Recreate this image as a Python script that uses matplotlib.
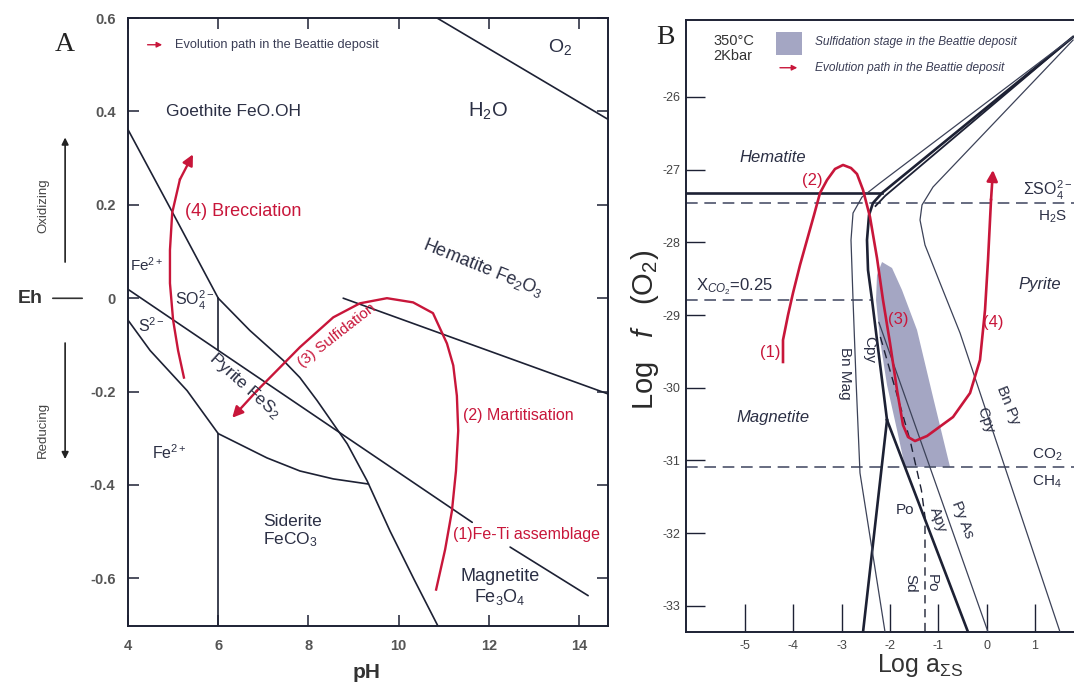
import matplotlib
matplotlib.use("Agg")
import matplotlib.pyplot as plt
from matplotlib.patches import Polygon, Rectangle

plt.rcParams['font.family'] = ['Liberation Sans', 'DejaVu Sans']
plt.rcParams['mathtext.fontset'] = 'custom'
plt.rcParams['mathtext.rm'] = 'Liberation Sans'
plt.rcParams['mathtext.it'] = 'Liberation Sans:italic'
plt.rcParams['mathtext.bf'] = 'Liberation Sans:bold'

LINE = '#1d2134'
TXT = '#2b2f44'
RED = '#c8163a'
DASH = '#4d536b'
TICK = '#555555'

# ---------------- panel A : Eh - pH ----------------
goe_fe_ph = [4.0, 4.99, 6.0]
goe_fe_eh = [0.361, 0.183, 0.0]
hem_sid_ph = [6.0, 6.70, 7.44, 7.81, 8.19, 8.86, 9.30, 9.81, 10.34, 10.87]
hem_sid_eh = [0.0, -0.069, -0.133, -0.170, -0.219, -0.312, -0.391, -0.499, -0.602, -0.702]
so4_ph = [4.0, 11.63]
so4_eh = [0.019, -0.480]
s2_ph = [4.0, 4.49, 5.31, 6.0]
s2_eh = [-0.047, -0.112, -0.198, -0.29]
py_sd_ph = [6.0, 7.08, 7.81, 8.55, 9.33]
py_sd_eh = [-0.29, -0.342, -0.370, -0.387, -0.398]
ph6_upper_eh = [0.0, -0.112]
ph6_lower_eh = [-0.29, -0.702]
hem_mag_ph = [8.77, 14.64]
hem_mag_eh = [0.0, -0.205]
mag_ph = [12.47, 14.20]
mag_eh = [-0.533, -0.637]
water_ph = [10.85, 14.64]
water_eh = [0.60, 0.383]

# evolution path (1) -> (2) -> (3)
path_a_ph = [10.83, 11.03, 11.18, 11.27, 11.32, 11.29, 11.21, 11.07, 10.76, 10.32,
             9.74, 9.14, 8.55, 7.81, 7.30, 6.86, 6.31]
path_a_eh = [-0.624, -0.538, -0.456, -0.370, -0.284, -0.209, -0.144, -0.097, -0.032,
             -0.009, 0.0, -0.011, -0.041, -0.105, -0.155, -0.198, -0.256]
# brecciation (4)
brec_ph = [5.24, 5.11, 5.00, 4.93, 4.93, 4.98, 5.15, 5.44]
brec_eh = [-0.170, -0.112, -0.047, 0.032, 0.103, 0.183, 0.254, 0.308]

eh_ticks = [-0.6, -0.4, -0.2, 0.0, 0.2, 0.4, 0.6]
eh_labels = ['-0.6', '-0.4', '-0.2', '0', '0.2', '0.4', '0.6']
ph_ticks = [4, 6, 8, 10, 12, 14]

# ---------------- panel B : log fO2 - log aS ----------------
apex = (1.787, -25.175)
hem_line_x = [-6.221, -2.165]
hem_line_y = [-27.32, -27.32]
so4_h2s_y = -27.458
xco2_y = -28.792
xco2_xmax = -2.35
co2_ch4_y = -31.089

mag_py_x = [apex[0], -2.165, -2.352, -2.434, -2.476, -2.455, -2.372, -2.269, -2.165, -2.062]
mag_py_y = [apex[1], -27.32, -27.458, -27.623, -27.967, -28.380, -28.792, -29.343, -29.893, -30.443]
cpy_x = [apex[0], -2.10, -2.30]
cpy_y = [apex[1], -27.36, -27.50]
po_py_x = [-2.062, -0.386]
po_py_y = [-30.443, -33.359]
mag_po_x = [-2.062, -2.558]
mag_po_y = [-30.443, -33.359]
apy_x = [-2.23, 0.028]
apy_y = [-29.10, -33.359]
bn_mag_x = [apex[0], -2.207, -2.579, -2.765, -2.807, -2.765, -2.703, -2.621, -2.103]
bn_mag_y = [apex[1], -27.183, -27.376, -27.596, -27.967, -28.792, -29.893, -31.172, -33.359]
bn_py_x = [1.787, -1.110, -1.338, -1.379, -1.276, -0.965, -0.551, 1.518]
bn_py_y = [-25.217, -27.238, -27.486, -27.692, -28.036, -28.558, -29.246, -33.359]
po_sd_x = [-2.20, -1.586, -1.35, -1.276, -1.276]
po_sd_y = [-29.30, -30.718, -31.41, -31.777, -33.359]

sulf_x = [-2.165, -1.958, -1.752, -1.441, -1.110, -0.758, -1.689, -1.855, -2.062,
          -2.207, -2.289, -2.269]
sulf_y = [-28.270, -28.352, -28.655, -29.205, -30.127, -31.089, -31.089, -30.580,
          -29.961, -29.343, -28.792, -28.449]

path_b_x = [-4.214, -4.214, -4.110, -4.007, -3.862, -3.717, -3.572, -3.448, -3.303,
            -3.138, -2.972, -2.807, -2.683, -2.558, -2.414, -2.269, -2.145, -2.000,
            -1.855, -1.731, -1.627, -1.483, -1.234, -0.696, -0.344, -0.138, -0.034,
            0.028, 0.090, 0.131]
path_b_y = [-29.645, -29.343, -28.999, -28.696, -28.311, -27.967, -27.623, -27.320,
            -27.142, -26.990, -26.935, -26.977, -27.059, -27.279, -27.651, -28.215,
            -28.792, -29.384, -30.030, -30.512, -30.677, -30.732, -30.663, -30.402,
            -30.072, -29.618, -28.930, -28.242, -27.417, -27.004]

fo2_ticks = [-33, -32, -31, -30, -29, -28, -27, -26]
as_ticks = [-5, -4, -3, -2, -1, 0, 1]

fig = plt.figure(figsize=(10.74, 6.84), dpi=100)
fig.patch.set_facecolor('white')

# ======== A ========
ax = fig.add_axes([128 / 1074, 58 / 684, 480 / 1074, 608 / 684])
ax.set_xlim(4, 14.64)
ax.set_ylim(-0.702, 0.60)
kw = dict(color=LINE, lw=1.2, solid_capstyle='round')
ax.plot(goe_fe_ph, goe_fe_eh, **kw)
ax.plot(hem_sid_ph, hem_sid_eh, **kw)
ax.plot(so4_ph, so4_eh, **kw)
ax.plot(s2_ph, s2_eh, **kw)
ax.plot(py_sd_ph, py_sd_eh, **kw)
ax.plot([6, 6], ph6_upper_eh, **kw)
ax.plot([6, 6], ph6_lower_eh, **kw)
ax.plot(hem_mag_ph, hem_mag_eh, **kw)
ax.plot(mag_ph, mag_eh, **kw)
ax.plot(water_ph, water_eh, **kw)

rkw = dict(color=RED, lw=1.7)
ax.plot(path_a_ph[:-1], path_a_eh[:-1], **rkw)
ax.annotate('', xy=(path_a_ph[-1], path_a_eh[-1]), xytext=(path_a_ph[-2], path_a_eh[-2]),
            arrowprops=dict(arrowstyle='-|>', color=RED, lw=1.7, mutation_scale=16,
                            shrinkA=0, shrinkB=0))
ax.plot(brec_ph[:-1], brec_eh[:-1], **rkw)
ax.annotate('', xy=(brec_ph[-1], brec_eh[-1]), xytext=(brec_ph[-2], brec_eh[-2]),
            arrowprops=dict(arrowstyle='-|>', color=RED, lw=1.7, mutation_scale=16,
                            shrinkA=0, shrinkB=0))

ax.text(6.33, 0.40, 'Goethite FeO.OH', ha='center', va='center', fontsize=12.5, color=TXT)
ax.text(11.98, 0.40, 'H$_2$O', ha='center', va='center', fontsize=14.5, color=TXT)
ax.text(13.58, 0.538, 'O$_2$', ha='center', va='center', fontsize=14, color=TXT)
ax.text(5.26, 0.185, '(4) Brecciation', ha='left', va='center', fontsize=13, color=RED)
ax.text(4.04, 0.071, 'Fe$^{2+}$', ha='left', va='center', fontsize=11, color=TXT)
ax.text(5.04, -0.004, 'SO$_4^{2-}$', ha='left', va='center', fontsize=11.5, color=TXT)
ax.text(4.22, -0.058, 'S$^{2-}$', ha='left', va='center', fontsize=11.5, color=TXT)
ax.text(6.59, -0.187, 'Pyrite FeS$_2$', ha='center', va='center', fontsize=12.5,
        color=TXT, rotation=-42, rotation_mode='anchor')
ax.text(8.63, -0.08, '(3) Sulfidation', ha='center', va='center', fontsize=11,
        color=RED, rotation=38, rotation_mode='anchor')
ax.text(11.87, 0.065, 'Hematite Fe$_2$O$_3$', ha='center', va='center', fontsize=13,
        color=TXT, rotation=-22, rotation_mode='anchor')
ax.text(11.43, -0.252, '(2) Martitisation', ha='left', va='center', fontsize=11.5, color=RED)
ax.text(4.53, -0.331, 'Fe$^{2+}$', ha='left', va='center', fontsize=11.5, color=TXT)
ax.text(6.99, -0.50, 'Siderite\nFeCO$_3$', ha='left', va='center', fontsize=12.5,
        color=TXT, linespacing=1.1)
ax.text(11.21, -0.505, '(1)Fe-Ti assemblage', ha='left', va='center', fontsize=11.5, color=RED)
ax.text(12.25, -0.62, 'Magnetite\nFe$_3$O$_4$', ha='center', va='center', fontsize=13,
        color=TXT, linespacing=1.1)

ax.set_yticks(eh_ticks)
ax.set_yticklabels(eh_labels)
ax.set_xticks(ph_ticks)
ax.tick_params(direction='in', length=8, width=1.1, top=True, right=True,
               labelsize=10.5, labelcolor=TICK, pad=9, colors=LINE)
for lab in ax.get_xticklabels() + ax.get_yticklabels():
    lab.set_fontweight('bold')
    lab.set_color(TICK)
for s in ax.spines.values():
    s.set_linewidth(1.4)
    s.set_color(LINE)

ax.text(0.496, -0.076, 'pH', transform=ax.transAxes, ha='center', va='center',
        fontsize=15, fontweight='bold', color='#333333')
ax.text(-0.131, 0.956, 'A', transform=ax.transAxes, ha='center', va='center',
        fontsize=20, family='Liberation Serif', color='#222222')
ax.text(-0.204, 0.539, 'Eh', transform=ax.transAxes, ha='center', va='center',
        fontsize=14, fontweight='bold', color='#333333')
ax.annotate('', xy=(-0.0896, 0.539), xytext=(-0.1625, 0.539), xycoords='axes fraction',
            arrowprops=dict(arrowstyle='-', color='#333333', lw=1.2))
ax.text(-0.177, 0.692, 'Oxidizing', transform=ax.transAxes, ha='center', va='center',
        rotation=90, fontsize=9.5, color='#444444')
ax.text(-0.177, 0.322, 'Reducing', transform=ax.transAxes, ha='center', va='center',
        rotation=90, fontsize=9.5, color='#444444')
ax.annotate('', xy=(-0.131, 0.808), xytext=(-0.131, 0.594), xycoords='axes fraction',
            arrowprops=dict(arrowstyle='-|>', color='#222222', lw=1.2, mutation_scale=10))
ax.annotate('', xy=(-0.131, 0.270), xytext=(-0.131, 0.470), xycoords='axes fraction',
            arrowprops=dict(arrowstyle='-|>', color='#222222', lw=1.2, mutation_scale=10))

ax.annotate('', xy=(0.077, 0.956), xytext=(0.035, 0.956), xycoords='axes fraction',
            arrowprops=dict(arrowstyle='-|>', color=RED, lw=1.0, mutation_scale=8))
ax.text(0.098, 0.956, 'Evolution path in the Beattie deposit', transform=ax.transAxes,
        ha='left', va='center', fontsize=9.2, color='#3a3d55')

# ======== B ========
bx = fig.add_axes([686 / 1074, 52 / 684, 388 / 1074, 612 / 684])
bx.set_xlim(-6.221, 1.807)
bx.set_ylim(-33.359, -24.941)

bx.add_patch(Polygon(list(zip(sulf_x, sulf_y)), closed=True, facecolor='#a4a6c3',
                     edgecolor='none', zorder=1))

dkw = dict(color=DASH, lw=1.2, dashes=(7, 4), zorder=2)
bx.plot([-6.221, 1.807], [so4_h2s_y, so4_h2s_y], **dkw)
bx.plot([-6.221, xco2_xmax], [xco2_y, xco2_y], **dkw)
bx.plot([-6.221, 1.807], [co2_ch4_y, co2_ch4_y], **dkw)
bx.plot(po_sd_x, po_sd_y, color=LINE, lw=1.0, dashes=(6, 4), zorder=2)

thick = dict(color=LINE, lw=1.9, zorder=3)
thin = dict(color='#3c4258', lw=0.9, zorder=3)
bx.plot(hem_line_x, hem_line_y, **thick)
bx.plot(mag_py_x, mag_py_y, **thick)
bx.plot(cpy_x, cpy_y, color=LINE, lw=1.3, zorder=3)
bx.plot(po_py_x, po_py_y, **thick)
bx.plot(mag_po_x, mag_po_y, **thick)
bx.plot(apy_x, apy_y, **thin)
bx.plot(bn_mag_x, bn_mag_y, **thin)
bx.plot(bn_py_x, bn_py_y, **thin)

bx.plot(path_b_x[:-1], path_b_y[:-1], color=RED, lw=1.9, zorder=4)
bx.annotate('', xy=(path_b_x[-1], path_b_y[-1]), xytext=(path_b_x[-2], path_b_y[-2]),
            arrowprops=dict(arrowstyle='-|>', color=RED, lw=1.9, mutation_scale=16,
                            shrinkA=0, shrinkB=0), zorder=4)

ax_txt = dict(ha='center', va='center', color=TXT)
bx.text(-4.421, -26.839, 'Hematite', fontsize=12, style='italic', **ax_txt)
bx.text(-4.421, -30.415, 'Magnetite', fontsize=12, style='italic', **ax_txt)
bx.text(1.104, -28.586, 'Pyrite', fontsize=12, style='italic', **ax_txt)
bx.text(-3.614, -27.155, '(2)', fontsize=12, ha='center', va='center', color=RED)
bx.text(-1.834, -29.067, '(3)', fontsize=12, ha='center', va='center', color=RED)
bx.text(0.131, -29.095, '(4)', fontsize=12, ha='center', va='center', color=RED)
bx.text(-4.483, -29.508, '(1)', fontsize=12, ha='center', va='center', color=RED)
bx.text(1.269, -27.279, 'ΣSO$_4^{2-}$', fontsize=11.5, **ax_txt)
bx.text(1.352, -27.651, 'H$_2$S', fontsize=11, **ax_txt)
bx.text(1.249, -30.924, 'CO$_2$', fontsize=11, **ax_txt)
bx.text(1.249, -31.296, 'CH$_4$', fontsize=11, **ax_txt)
bx.text(-6.02, -28.613, 'X$_{CO_2}$=0.25', fontsize=12, ha='left', va='center', color=TXT)
bx.text(-2.931, -29.796, 'Bn Mag', fontsize=11, rotation=-90, **ax_txt)
bx.text(-2.434, -29.480, 'Cpy', fontsize=11, rotation=-90, **ax_txt)
bx.text(-0.034, -30.443, 'Cpy', fontsize=11, rotation=-70, **ax_txt)
bx.text(0.442, -30.237, 'Bn Py', fontsize=11, rotation=-68, **ax_txt)
bx.text(-1.689, -31.681, 'Po', fontsize=11, **ax_txt)
bx.text(-1.007, -31.818, 'Apy', fontsize=11, rotation=-70, **ax_txt)
bx.text(-0.510, -31.818, 'Py As', fontsize=11, rotation=-69, **ax_txt)
bx.text(-1.586, -32.685, 'Sd', fontsize=11, rotation=-90, **ax_txt)
bx.text(-1.131, -32.685, 'Po', fontsize=11, rotation=-90, **ax_txt)

bx.set_yticks(fo2_ticks)
bx.set_yticklabels([str(t) for t in fo2_ticks])
bx.set_xticks(as_ticks)
bx.set_xticklabels([str(t) for t in as_ticks])
bx.tick_params(axis='y', direction='in', length=14, width=1.0, labelsize=9,
               labelcolor='#444444', pad=4, colors=LINE)
bx.tick_params(axis='x', direction='in', length=20, width=1.0, labelsize=9,
               labelcolor='#444444', pad=6, colors=LINE)
for lab in bx.get_xticklabels() + bx.get_yticklabels():
    lab.set_color('#444444')
bx.spines['right'].set_visible(False)
for s in ['left', 'top', 'bottom']:
    bx.spines[s].set_linewidth(1.4)
    bx.spines[s].set_color(LINE)

bx.text(-0.106, 0.493, 'Log   $f$   (O$_2$)', transform=bx.transAxes, rotation=90,
        ha='center', va='center', fontsize=21, color='#2a2a2a')
bx.text(0.603, -0.054, 'Log a$_{\\mathrm{ΣS}}$', transform=bx.transAxes,
        ha='center', va='center', fontsize=18, color='#333333')
bx.text(-0.054, 0.971, 'B', transform=bx.transAxes, ha='center', va='center',
        fontsize=20, family='Liberation Serif', color='#222222')
bx.text(0.070, 0.953, '350°C\n2Kbar', transform=bx.transAxes, ha='left', va='center',
        fontsize=10.5, color='#333333', linespacing=1.05)
bx.add_patch(Rectangle((0.232, 0.943), 0.067, 0.037, transform=bx.transAxes,
                       facecolor='#a4a6c3', edgecolor='none'))
bx.text(0.332, 0.964, 'Sulfidation stage in the Beattie deposit', transform=bx.transAxes,
        ha='left', va='center', fontsize=8.6, style='italic', color='#3a3d55')
bx.annotate('', xy=(0.294, 0.922), xytext=(0.235, 0.922), xycoords='axes fraction',
            arrowprops=dict(arrowstyle='-|>', color=RED, lw=1.0, mutation_scale=8))
bx.text(0.332, 0.922, 'Evolution path in the Beattie deposit', transform=bx.transAxes,
        ha='left', va='center', fontsize=8.6, style='italic', color='#3a3d55')

fig.savefig('out.png', dpi=100, facecolor='white')
